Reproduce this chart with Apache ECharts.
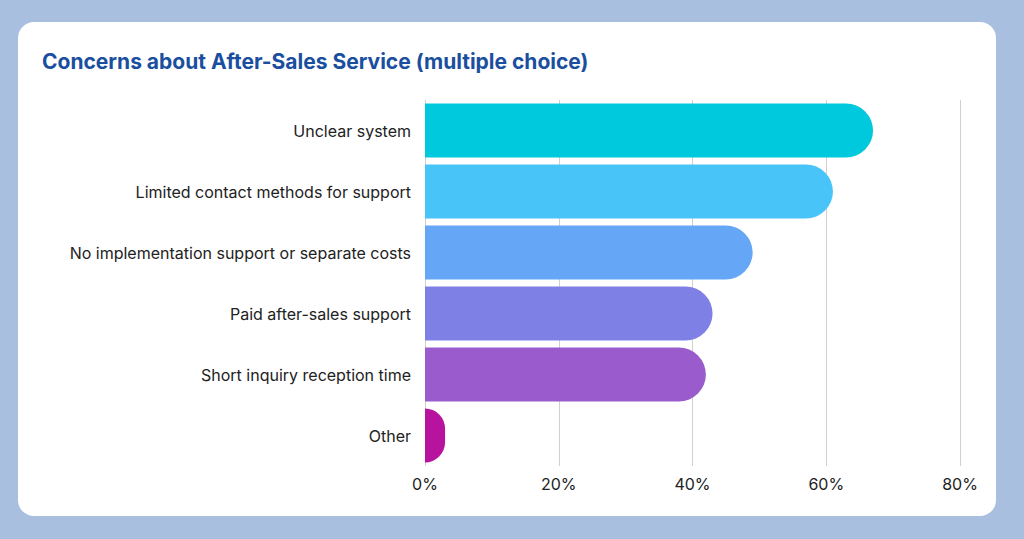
<!DOCTYPE html>
<html><head><meta charset="utf-8">
<script src="https://cdn.jsdelivr.net/npm/echarts@6/dist/echarts.min.js"></script>
<style>
html,body{margin:0;padding:0;width:1024px;height:539px;background:#a9bfe0;overflow:hidden}
#card{position:absolute;left:18px;top:22px;width:978px;height:494px;background:#fff;border-radius:16px}
#c{position:absolute;left:0;top:0;width:1024px;height:539px}
</style></head><body>
<div id="card"></div>
<div id="c"></div>
<script>
const categories=["Unclear system","Limited contact methods for support","No implementation support or separate costs","Paid after-sales support","Short inquiry reception time","Other"];
const values=[67,61,49,43,42,3];
const colors=["#00c9dd","#48c4f8","#66a6f7","#7f80e6","#9a5ccc","#b8139e"];
const tickLabels=["0%","20%","40%","60%","80%"];
const chart=echarts.init(document.getElementById('c'),null,{renderer:'svg'});
chart.setOption({
 title:{text:"Concerns about After-Sales Service (multiple choice)",left:37,top:46,textStyle:{fontFamily:"Inter",fontSize:21,fontWeight:'bold',color:'#1a4fa0'}},
 grid:{left:425,right:64,top:100,bottom:73,containLabel:false},
 xAxis:{type:'value',min:0,max:80,interval:20,
  axisLabel:{formatter:v=>tickLabels[v/20],fontFamily:"Inter",fontSize:16,color:'#222',margin:10},
  splitLine:{lineStyle:{color:'#d0d0d0'}},axisLine:{show:false},axisTick:{show:false}},
 yAxis:{type:'category',inverse:true,data:categories,
  axisLabel:{fontFamily:"Inter",fontSize:16,color:'#222',margin:14},
  axisLine:{show:false},axisTick:{show:false}},
 series:[{type:'bar',barWidth:54,
  data:values.map((v,i)=>({value:v,itemStyle:{color:colors[i]}})),
  itemStyle:{borderRadius:[0,27,27,0]}}]
});
</script></body></html>
